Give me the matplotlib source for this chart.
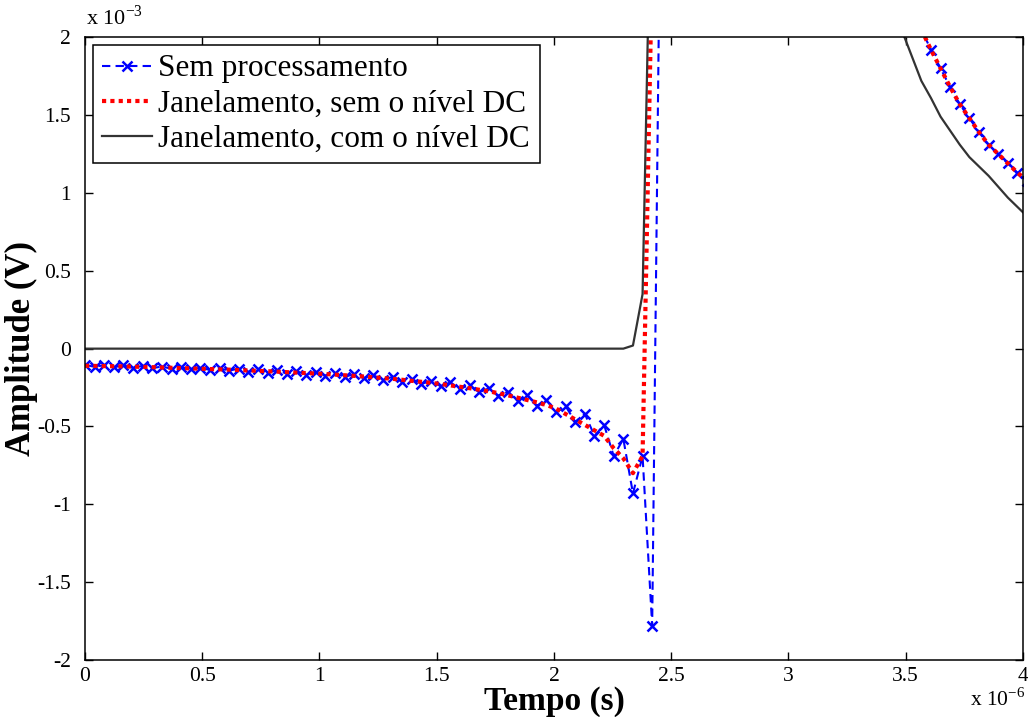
import numpy as np
import matplotlib
matplotlib.use("Agg")
import matplotlib.pyplot as plt
from matplotlib.ticker import FuncFormatter, MultipleLocator

plt.rcParams['font.family'] = ['Liberation Serif', 'DejaVu Serif']
plt.rcParams['mathtext.fontset'] = 'custom'
plt.rcParams['mathtext.rm'] = 'Liberation Serif'
plt.rcParams['axes.unicode_minus'] = False

dt = 0.041

# Sem processamento (mV)
sem_proc = [
    -0.104, -0.117, -0.106, -0.119, -0.108, -0.122, -0.111, -0.125, -0.115, -0.129,
    -0.119, -0.133, -0.123, -0.137, -0.127, -0.141, -0.128, -0.150, -0.133, -0.155,
    -0.138, -0.161, -0.144, -0.167, -0.150, -0.173, -0.157, -0.181, -0.164, -0.190,
    -0.172, -0.201, -0.181, -0.214, -0.195, -0.227, -0.206, -0.242, -0.217, -0.259,
    -0.233, -0.281, -0.255, -0.302, -0.277, -0.334, -0.298, -0.367, -0.330, -0.410,
    -0.370, -0.470, -0.420, -0.560, -0.490, -0.690, -0.580, -0.930, -0.690, -1.780,
    3.8, 9.0, 13.5, 15.0, 15.2, 14.6, 13.8, 12.8, 11.7, 10.6,
    9.6, 8.6, 7.7, 6.9, 6.1, 5.4, 4.8, 4.3, 3.8, 3.4,
    3.1, 2.95, 2.78, 2.64, 2.50, 2.33, 2.18, 2.05, 1.92, 1.80,
    1.68, 1.57, 1.48, 1.39, 1.31, 1.25, 1.19, 1.13, 1.08,
]

# Janelamento, sem o nivel DC (mV)
jan_sem_dc = [
    -0.110, -0.111, -0.112, -0.113, -0.114, -0.116, -0.117, -0.119, -0.121, -0.123,
    -0.125, -0.127, -0.129, -0.131, -0.133, -0.135, -0.138, -0.140, -0.143, -0.145,
    -0.148, -0.151, -0.154, -0.157, -0.160, -0.163, -0.167, -0.171, -0.175, -0.179,
    -0.184, -0.189, -0.194, -0.200, -0.207, -0.213, -0.220, -0.227, -0.236, -0.245,
    -0.254, -0.264, -0.274, -0.286, -0.300, -0.315, -0.330, -0.345, -0.362, -0.385,
    -0.420, -0.455, -0.490, -0.525, -0.560, -0.640, -0.705, -0.800, -0.690, 2.5,
    6.0, 10.0, 13.0, 14.5, 15.0, 14.6, 13.8, 12.8, 11.7, 10.6,
    9.6, 8.6, 7.7, 6.9, 6.1, 5.4, 4.8, 4.3, 3.8, 3.4,
    3.1, 2.95, 2.78, 2.64, 2.50, 2.33, 2.18, 2.05, 1.92, 1.80,
    1.68, 1.57, 1.48, 1.39, 1.31, 1.25, 1.19, 1.13, 1.08,
]

# Janelamento, com o nivel DC (mV)
jan_com_dc = [
    0.0, 0.0, 0.0, 0.0, 0.0, 0.0, 0.0, 0.0, 0.0, 0.0,
    0.0, 0.0, 0.0, 0.0, 0.0, 0.0, 0.0, 0.0, 0.0, 0.0,
    0.0, 0.0, 0.0, 0.0, 0.0, 0.0, 0.0, 0.0, 0.0, 0.0,
    0.0, 0.0, 0.0, 0.0, 0.0, 0.0, 0.0, 0.0, 0.0, 0.0,
    0.0, 0.0, 0.0, 0.0, 0.0, 0.0, 0.0, 0.0, 0.0, 0.0,
    0.0, 0.0, 0.0, 0.0, 0.0, 0.0, 0.0, 0.02, 0.35, 3.4,
    7.0, 11.0, 13.5, 14.5, 14.6, 14.0, 13.1, 12.0, 10.9, 9.8,
    8.8, 7.8, 7.0, 6.2, 5.5, 4.9, 4.4, 3.9, 3.5, 3.2,
    2.9, 2.7, 2.55, 2.38, 2.20, 2.04, 1.88, 1.72, 1.61, 1.49,
    1.40, 1.31, 1.23, 1.17, 1.11, 1.04, 0.97, 0.91, 0.85,
]

labels = ['Sem processamento', 'Janelamento, sem o nível DC', 'Janelamento, com o nível DC']

t = np.arange(len(sem_proc)) * dt

fig = plt.figure(figsize=(10.28, 7.17), dpi=100)
ax = fig.add_axes([0.0827, 0.0795, 0.9123, 0.8685])

ax.plot(t, sem_proc, color='blue', linestyle=(0, (4, 2.5)), linewidth=1.5,
        marker='x', markersize=6.5, markeredgewidth=1.8, label=labels[0])
ax.plot(t, jan_sem_dc, color='red', linestyle=(0, (1, 1)), linewidth=3,
        dash_capstyle='butt', label=labels[1])
ax.plot(t, jan_com_dc, color='#333333', linewidth=1.6, label=labels[2])

ax.set_xlim(0, 4)
ax.set_ylim(-2, 2)
ax.xaxis.set_major_locator(MultipleLocator(0.5))
ax.yaxis.set_major_locator(MultipleLocator(0.5))
fmt = FuncFormatter(lambda v, p: '%g' % v)
ax.xaxis.set_major_formatter(fmt)
ax.yaxis.set_major_formatter(fmt)
ax.tick_params(direction='in', top=True, right=True, length=6, width=1,
               labelsize=15.5)
ax.tick_params(axis='y', pad=10)
ax.tick_params(axis='x', pad=5)
for s in ax.spines.values():
    s.set_linewidth(1.1)

ax.set_xlabel('Tempo (s)', fontsize=24, fontweight='bold', va='top')
ax.xaxis.set_label_coords(0.5, -0.042)
ax.set_ylabel('Amplitude (V)', fontsize=25, fontweight='bold', va='bottom')
ax.yaxis.set_label_coords(-0.05, 0.5)

fig.text(0.084, 0.958, r'x 10$^{-3}$', fontsize=16, ha='left', va='bottom')
fig.text(0.997, 0.008, r'x 10$^{-6}$', fontsize=15.5, ha='right', va='bottom')

leg = ax.legend(loc='upper left', fontsize=22.5, frameon=True, fancybox=False,
                edgecolor='black', framealpha=1, handlelength=1.6,
                handletextpad=0.2, labelspacing=0.2, borderpad=0.3,
                borderaxespad=0.25)
leg.get_frame().set_linewidth(1.1)

fig.savefig('out.png', dpi=100)
